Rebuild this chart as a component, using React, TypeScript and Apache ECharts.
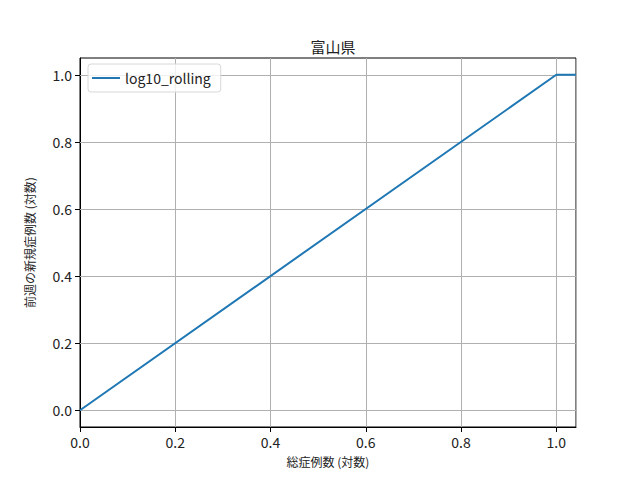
import React, { useEffect, useRef } from "react";
import * as echarts from "echarts";

const seriesName = "log10_rolling";
const xValues = [0, 1, 1.0414];
const yValues = [0, 1, 1];
const tickValues = [0, 0.2, 0.4, 0.6, 0.8, 1.0];
const titleText = "富山県";
const xLabel = "総症例数 (対数)";
const yLabel = "前週の新規症例数 (対数)";

const FONT = "'Noto Sans CJK JP', 'DejaVu Sans', sans-serif";

export default function App() {
  const ref = useRef<HTMLDivElement>(null);
  useEffect(() => {
    if (!ref.current) return;
    const chart = echarts.init(ref.current, null, { renderer: "svg" });
    const gridLine = { color: "#b0b0b0", width: 1, type: "solid" as const };
    chart.setOption({
      animation: false,
      backgroundColor: "#ffffff",
      title: {
        text: titleText,
        left: 328,
        top: 34,
        textAlign: "center",
        textStyle: { fontFamily: FONT, fontSize: 15, fontWeight: "normal", color: "#222" },
      },
      legend: {
        left: 88,
        top: 64,
        orient: "vertical",
        data: [seriesName],
        itemWidth: 28,
        itemHeight: 2,
        itemGap: 4,
        padding: [7, 10, 7, 4],
        borderColor: "#d8d8d8",
        borderWidth: 1,
        borderRadius: 3,
        backgroundColor: "rgba(255,255,255,0.8)",
        textStyle: { fontFamily: FONT, fontSize: 14, color: "#222" },
        icon: "rect",
      },
      grid: {
        left: 80,
        right: 64,
        top: 58,
        bottom: 53,
        show: true,
        borderColor: "#000",
        borderWidth: 1,
        backgroundColor: "transparent",
      },
      xAxis: {
        type: "value",
        min: 0,
        max: 1.0414,
        interval: 0.2,
        name: xLabel,
        nameLocation: "middle",
        nameGap: 28,
        nameTextStyle: { fontFamily: FONT, fontSize: 12, color: "#222" },
        axisLine: { show: true, onZero: false, lineStyle: { color: "#000" } },
        axisTick: { show: true, inside: false, length: 5, lineStyle: { color: "#000" } },
        axisLabel: {
          fontFamily: FONT,
          fontSize: 14,
          color: "#222",
          margin: 8,
          formatter: (v: number) => v.toFixed(1),
          showMaxLabel: false,
        },
        splitLine: { show: true, lineStyle: gridLine },
      },
      yAxis: {
        type: "value",
        min: -0.05,
        max: 1.05,
        name: yLabel,
        nameLocation: "middle",
        nameGap: 45,
        nameTextStyle: { fontFamily: FONT, fontSize: 12, color: "#222" },
        axisLine: { show: true, onZero: false, lineStyle: { color: "#000" } },
        axisTick: {
          show: true,
          inside: false,
          length: 5,
          lineStyle: { color: "#000" },
          customValues: tickValues,
        },
        axisLabel: {
          fontFamily: FONT,
          fontSize: 14,
          color: "#222",
          margin: 8,
          customValues: tickValues,
          formatter: (v: number) => v.toFixed(1),
        },
        splitLine: { show: false },
      },
      series: [
        {
          name: seriesName,
          type: "line",
          data: xValues.map((x, i) => [x, yValues[i]]),
          showSymbol: false,
          symbol: "none",
          lineStyle: { color: "#1f77b4", width: 2 },
          itemStyle: { color: "#1f77b4" },
          z: 3,
          markLine: {
            silent: true,
            symbol: "none",
            label: { show: false },
            lineStyle: gridLine,
            z: 1,
            data: tickValues.map((v) => ({ yAxis: v })),
          },
        },
      ],
    });
    return () => chart.dispose();
  }, []);
  return (
    <div
      ref={ref}
      style={{ position: "absolute", left: 0, top: 0, width: 640, height: 480 }}
    />
  );
}
